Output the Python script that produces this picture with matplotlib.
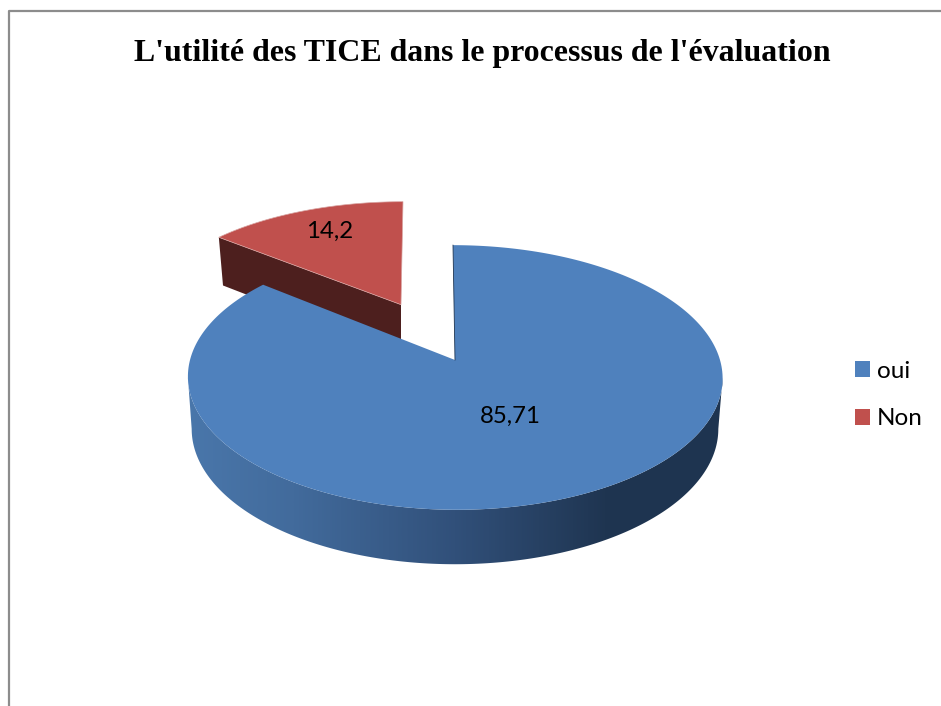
import matplotlib
matplotlib.use("Agg")
import matplotlib.pyplot as plt
import numpy as np
from matplotlib.colors import LinearSegmentedColormap
from matplotlib.patches import Patch, Polygon

labels = ["oui", "Non"]
values = [85.71, 14.2]
value_labels = ["85,71", "14,2"]
colors = ["#4f81bd", "#c0504d"]
red_side = "#4d1f1e"
title = "L'utilité des TICE dans le processus de l'évaluation"

# pie model, in pixels of the 941x706 picture
cx = 455
cy = 360
rx = 265
persp = 0.132
top_a = 130
bot_y = 411
bot_a = 133
bot_x = 0.985
explode = 0.5
lean = 2


def top_xy(s, t, dx=0):
    d = 1 + persp * t
    return cx + rx * s / d - lean * t + dx, cy - top_a * t / d


def bottom_xy(s, t, dx=0):
    d = 1 + persp * t
    return cx + bot_x * rx * s / d + dx, bot_y - bot_a * t / d


fig = plt.figure(figsize=(9.41, 7.06), dpi=100)
ax = fig.add_axes([0, 0, 1, 1])
ax.set_xlim(0, 941)
ax.set_ylim(706, 0)
ax.axis("off")

# chart frame
ax.plot([941, 9.5, 9.5], [10.5, 10.5, 706], color="#8c8c8c", lw=1.6)

total = sum(values)
blue_end = 2 * np.pi * values[0] / total
red_end = blue_end + 2 * np.pi * values[1] / total
red_mid = (blue_end + red_end) / 2
off_s = explode * np.sin(red_mid)
off_t = explode * np.cos(red_mid)
# sideways shift of the pulled out slice
red_dx = rx * off_s / (1 + persp * off_t)

# red slice, leaning the other way from the blue one
th = np.linspace(blue_end, red_end, 60)
t_red = np.cos(th) + off_t
rx_top, ry_top = top_xy(1.015 * np.sin(th), t_red, red_dx + 2 * lean * t_red - lean * off_t)
ax0, ay0 = top_xy(0, off_t, red_dx + lean * off_t)
bx0, by0 = bottom_xy(0, off_t, red_dx)
bx1, by1 = bottom_xy(np.sin(blue_end), np.cos(blue_end) + off_t, red_dx)
ax.add_patch(Polygon([(rx_top[0], ry_top[0]), (ax0, ay0), (bx0, by0), (bx1, by1)],
                     fc=red_side, ec="none", zorder=2))
ax.add_patch(Polygon(np.r_[[[ax0, ay0]], np.c_[rx_top, ry_top]],
                     fc=colors[1], ec="#d9a5a3", lw=0.5, zorder=3))

# blue wall, gradient from left to right, between the widest points of the ellipse
th_r = np.arccos(-persp)
th = np.linspace(th_r, 2 * np.pi - th_r, 240)
x1, y1 = top_xy(np.sin(th), np.cos(th))
x2, y2 = bottom_xy(np.sin(th), np.cos(th))
wall = Polygon(np.r_[np.c_[x1, y1], np.c_[x2, y2][::-1]], fc="none", ec="none", zorder=4)
ax.add_patch(wall)
cmap = LinearSegmentedColormap.from_list(
    "wall",
    [(0, "#1e3450"), (0.22, "#1f3551"), (0.5, "#31507a"), (0.8, "#426b9c"), (1, "#4a77ab")])
grad = np.linspace(0, 1, 512)[::-1].reshape(1, -1)
im = ax.imshow(grad, cmap=cmap, extent=[185, 725, 706, 0], aspect="auto", zorder=4)
im.set_clip_path(wall)
ax.set_xlim(0, 941)
ax.set_ylim(706, 0)

# blue slice, top face
th = np.linspace(0, blue_end, 300)
bx_top, by_top = top_xy(np.sin(th), np.cos(th))
ax.add_patch(Polygon(np.r_[[[cx, cy]], np.c_[bx_top, by_top]],
                     fc=colors[0], ec="none", zorder=5))
ax.plot([bx_top[0], cx], [by_top[0], cy], color="#1e3450", lw=0.6, zorder=5)

ax.text(510, 416.5, value_labels[0], family="Lato", fontsize=17.3, ha="center", va="center", zorder=6)
ax.text(330, 231.5, value_labels[1], family="Lato", fontsize=17.3, ha="center", va="center", zorder=6)

ax.text(482, 53, title, family="Liberation Serif", fontweight="bold", fontsize=22.95,
        ha="center", va="center")

handles = [Patch(fc=colors[0], label=labels[0]), Patch(fc=colors[1], label=labels[1])]
ax.legend(handles=handles, loc="center left", bbox_to_anchor=(855, 395),
          bbox_transform=ax.transData, frameon=False, prop={"family": "Lato", "size": 17.5},
          handlelength=0.62, handleheight=0.62, handletextpad=0.27, labelspacing=1.1,
          borderpad=0, borderaxespad=0)

fig.savefig("out.png", dpi=100)
